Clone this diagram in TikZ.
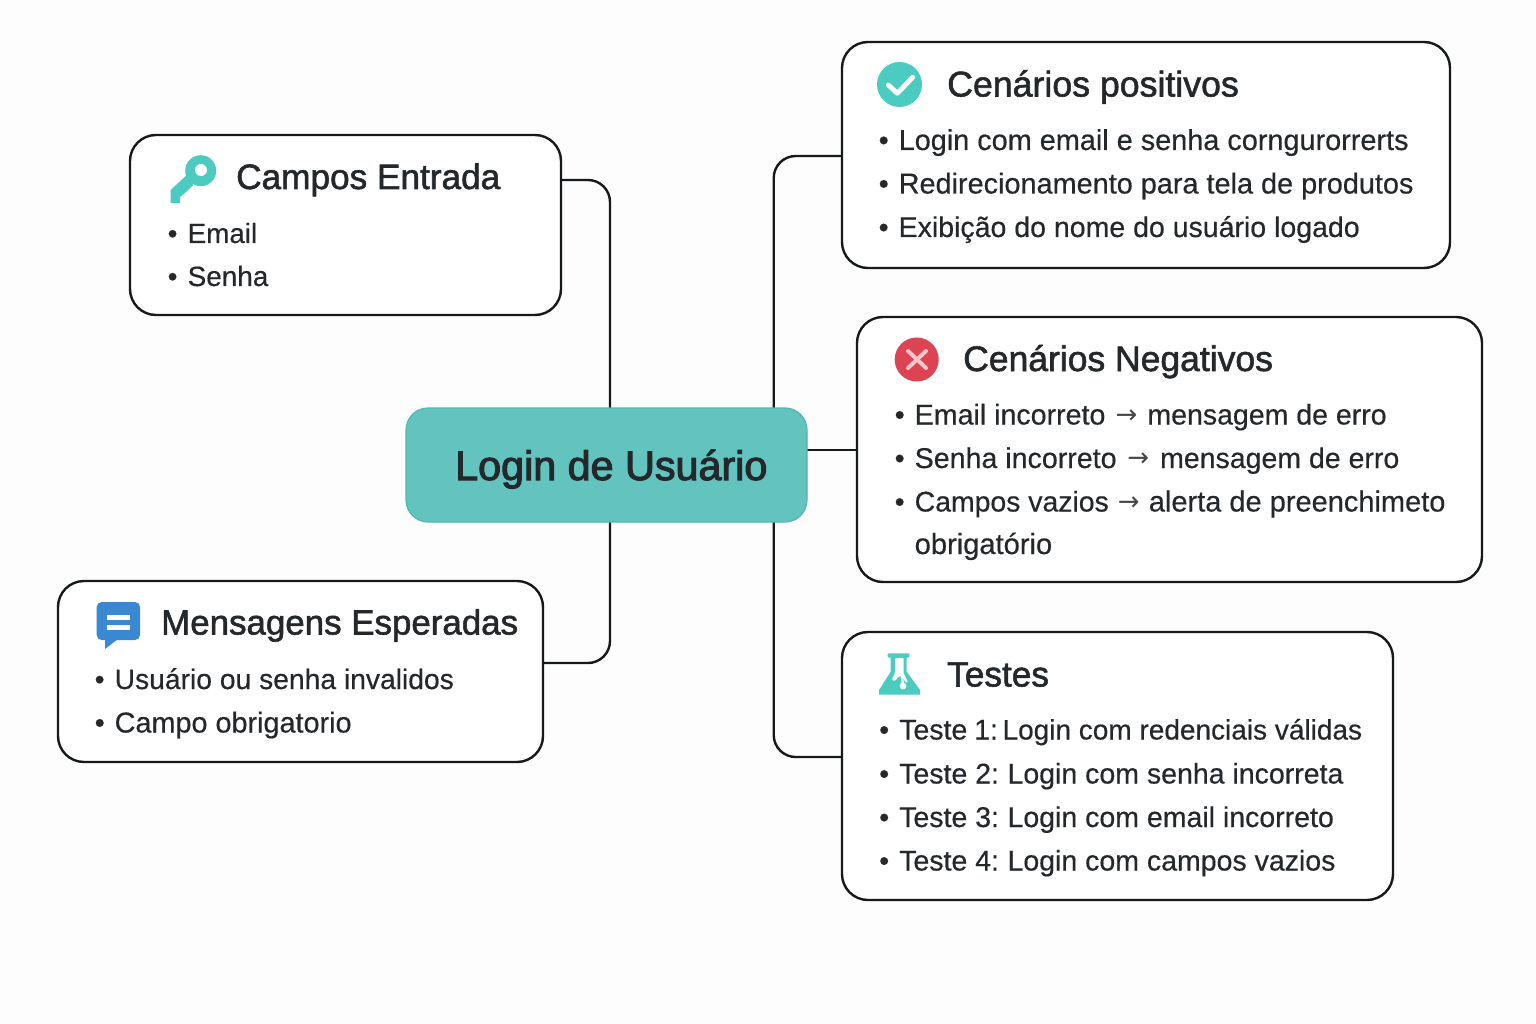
\documentclass[tikz,border=0pt]{standalone}
\usepackage{fontspec}
\setmainfont{Liberation Sans}
\newfontfamily\titlefont[FakeBold=1.6]{Liberation Sans}
\newfontfamily\hubfont[FakeBold=2.6]{Liberation Sans}
\newfontfamily\bodyfont[FakeBold=0.4]{Liberation Sans}
\newfontfamily\arrowfont{DejaVu Sans}
\definecolor{ink}{HTML}{24282B}
\definecolor{edge}{HTML}{15191C}
\definecolor{hub}{HTML}{62C3BF}
\definecolor{hubline}{HTML}{4FB8B4}
\definecolor{mint}{HTML}{4CCBC1}
\definecolor{redx}{HTML}{DC4353}
\definecolor{redxl}{HTML}{FBC6C8}
\definecolor{blueb}{HTML}{3A87D2}
\definecolor{paper}{HTML}{FDFDFD}
\newcommand{\bul}{\makebox[20pt][l]{•}}
\newcommand{\arr}[1]{\makebox[#1][c]{\raisebox{1.5pt}{\textcolor{ink!85}{\arrowfont\fontsize{26}{26}\selectfont →}}}}
\newcommand{\sized}[2]{{\fontsize{#1}{#1}\selectfont #2}}
\tikzset{
 x=1pt,y=-1pt,
 panel/.style={draw=edge,line width=2.4pt,fill=white,rounded corners=26pt},
 hubbox/.style={draw=hubline,line width=1.2pt,fill=hub,rounded corners=22pt},
 link/.style={draw=edge,line width=2.4pt,rounded corners=22pt},
 titletext/.style={anchor=base west,inner sep=0pt,text=ink,font=\titlefont\fontsize{#1}{#1}\selectfont},
 titletext/.default=35.2,
 itemtext/.style={anchor=base west,inner sep=0pt,text=ink,font=\bodyfont\fontsize{#1}{#1}\selectfont},
 itemtext/.default=28.5,
 hubtext/.style={anchor=base west,inner sep=0pt,text=ink,font=\hubfont\fontsize{41.3}{41.3}\selectfont},
}
\begin{document}
\begin{tikzpicture}
\useasboundingbox (0,0) rectangle (1536,1024);
\fill[paper] (0,0) rectangle (1536,1024);
\coordinate (c1) at (406,408); \coordinate (c2) at (807,522);
\coordinate (a1) at (130,135); \coordinate (a2) at (561,315);
\coordinate (m1) at (58,581);  \coordinate (m2) at (543,762);
\coordinate (p1) at (842,42);  \coordinate (p2) at (1450,268);
\coordinate (n1) at (857,317); \coordinate (n2) at (1482,582);
\coordinate (t1) at (842,632); \coordinate (t2) at (1393,900);
\coordinate (aout) at (561,180); \coordinate (ain) at (610,408);
\coordinate (mout) at (543,663); \coordinate (min) at (610,522);
\coordinate (pout) at (842,156); \coordinate (pin) at (773.7,408);
\coordinate (nout) at (857,450); \coordinate (nin) at (807,450);
\coordinate (tout) at (842,757); \coordinate (tin) at (773.7,522);
\draw[link] (aout) -| (ain);
\draw[link] (mout) -| (min);
\draw[link] (pout) -| (pin);
\draw[link] (nin) -- (nout);
\draw[link] (tout) -| (tin);
\draw[panel] (a1) rectangle (a2);
\draw[panel] (m1) rectangle (m2);
\draw[panel] (p1) rectangle (p2);
\draw[panel] (n1) rectangle (n2);
\draw[panel] (t1) rectangle (t2);
\draw[hubbox] (c1) rectangle (c2);
\node[hubtext] (hubt) at (455,480) {Login de Usuário};
% key icon
\fill[mint] (170.7,190) -- (186.7,175) -- (193,185) -- (188,190) -- (186,192) -- (180,197) -- (180,203) -- (170.7,203) -- cycle;
\fill[mint] (200.7,170.7) circle (15.5);
\fill[white] (201,170) circle (6);
\node[titletext] (at) at (236,189) {Campos Entrada};
\node[itemtext=27.8] (a-1) at (167.5,243) {\bul Email};
\node[itemtext=27.9] (a-2) at (167.5,286) {\bul Senha};
% bubble icon
\fill[blueb,rounded corners=5pt] (96.7,602) rectangle (140,640);
\fill[blueb] (105,638) -- (105,649) -- (118,639) -- cycle;
\fill[white] (106.7,615) rectangle (130,620);
\fill[white] (106.7,625) rectangle (130,630);
\node[titletext=34.9] (mt) at (161,634.5) {Mensagens Esperadas};
\node[itemtext=28.25] (m-1) at (94.5,689) {\bul Usuário ou senha invalidos};
\node[itemtext=28.8] (m-2) at (94.5,732.5) {\bul Campo obrigatorio};
% check icon
\fill[mint] (899.5,84.5) circle (22.5);
\draw[white,line width=4.8pt,line cap=round,line join=round] (888.3,85) -- (897.3,93.3) -- (912.7,77.3);
\node[titletext=35.7] (pt) at (947,96.5) {Cenários positivos};
\node[itemtext=28.85] (p-1) at (878.5,150) {\bul Login com email e senha corngurorrerts};
\node[itemtext=28.85] (p-2) at (878.5,193.5) {\bul Redirecionamento para tela de produtos};
\node[itemtext=28.5] (p-3) at (878.5,237) {\bul Exibição do nome do usuário logado};
% cross icon
\fill[redx] (916.7,359.5) circle (22);
\draw[redxl,line width=4pt,line cap=round] (908,351) -- (926,368) (926,351) -- (908,368);
\node[titletext=35.5] (nt) at (963,371) {Cenários Negativos};
\node[itemtext=28.6] (n-1) at (894.5,424.5) {\bul Email incorreto\arr{42pt}\sized{28.5}{mensagem de erro}};
\node[itemtext=28.6] (n-2) at (894.5,468) {\bul Senha incorreto\arr{43.5pt}\sized{28.5}{mensagem de erro}};
\node[itemtext=28.4] (n-3) at (894.5,511.5) {\bul Campos vazios\arr{40pt}\sized{29}{alerta de preenchimeto}};
\node[itemtext=29.1] (n-4) at (914.5,554) {obrigatório};
% flask icon
\fill[mint,rounded corners=1pt] (887.7,653.3) rectangle (909.3,657.5);
\fill[mint] (890.7,657) -- (890.7,671.7) -- (879,690) -- (879,694.5) -- (920,694.5) -- (920,690) -- (906.7,671.7) -- (906.7,657) -- cycle;
\fill[white,rounded corners=1pt] (895,658) -- (903.5,658) -- (903.5,673) -- (908,682) -- (906,683) -- (902,676) -- (899,676) -- (896,680) -- (893,681) -- (892,679) -- (895,673) -- cycle;
\draw[white,line width=2.4pt] (901.5,675) -- (903,684);
\fill[white] (903,686) circle (3.4);
\node[titletext] (tt) at (947,686.5) {Testes};
\node[itemtext] (t-1) at (879,739.5) {\bul Teste\hspace{-1pt} 1:\hspace{-6pt} \sized{28}{Login com redenciais válidas}};
\node[itemtext] (t-2) at (879,783.5) {\bul Teste 2:\hspace{-2pt} Login com senha incorreta};
\node[itemtext] (t-3) at (879,827) {\bul Teste 3:\hspace{-2pt} Login com email incorreto};
\node[itemtext] (t-4) at (879,870.5) {\bul Teste 4:\hspace{-2pt} Login com campos vazios};
\end{tikzpicture}
\end{document}
